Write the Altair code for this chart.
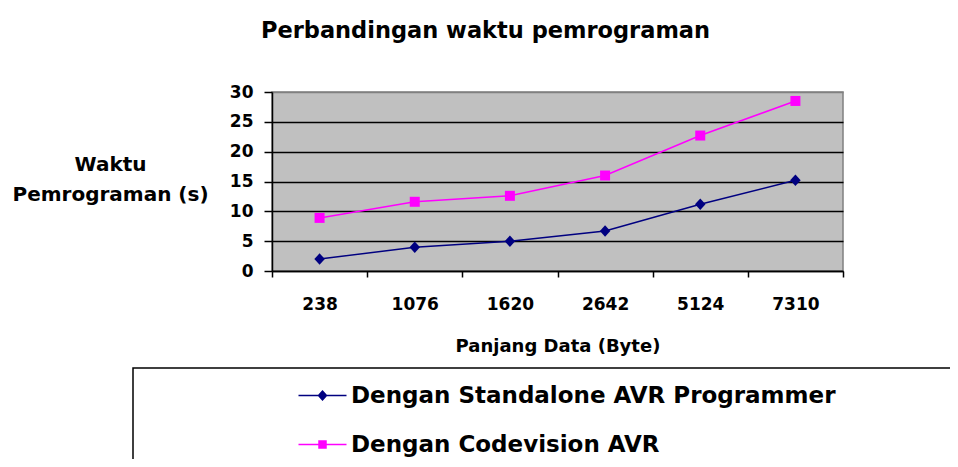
import altair as alt
import pandas as pd

# ---- data ----
categories = ["238", "1076", "1620", "2642", "5124", "7310"]
standalone = [2.0, 4.0, 5.0, 6.7, 11.2, 15.2]
codevision = [8.9, 11.6, 12.6, 16.0, 22.7, 28.5]
series_names = ["Dengan Standalone AVR Programmer", "Dengan Codevision AVR"]
series_colors = ["#000080", "#FF00FF"]
y_ticks = [0, 5, 10, 15, 20, 25, 30]

rows = []
for name, vals in zip(series_names, [standalone, codevision]):
    for c, v in zip(categories, vals):
        rows.append({"size": c, "time": v, "series": name})
df = pd.DataFrame(rows)

FONT = "DejaVu Sans"

point_paths = ["M0,-1.15L1.05,0L0,1.15L-1.05,0Z", "M-1,-1L1,-1L1,1L-1,1Z"]
legend_paths = [
    "M-4.8,-0.15L4.8,-0.15L4.8,0.15L-4.8,0.15Z M0,-1.1L1,0L0,1.1L-1,0Z",
    "M-4.8,-0.15L4.8,-0.15L4.8,0.15L-4.8,0.15Z M-0.85,-0.85L0.85,-0.85L0.85,0.85L-0.85,0.85Z",
]


def color_scale():
    return alt.Scale(domain=series_names, range=series_colors)


x_enc = alt.X(
    "size:N",
    sort=categories,
    bandPosition=0.5,
    scale=alt.Scale(type="band", paddingInner=0, paddingOuter=0),
    axis=alt.Axis(
        title="Panjang Data (Byte)",
        labelAngle=0,
        tickBand="extent",
        tickSize=6,
        tickColor="black",
        tickWidth=1.5,
        domainColor="black",
        domainWidth=1.5,
        grid=False,
        labelPadding=19,
        titlePadding=25,
    ),
)
y_enc = alt.Y(
    "time:Q",
    scale=alt.Scale(domain=[0, 30], nice=False),
    axis=alt.Axis(
        values=y_ticks,
        title=["Waktu", "Pemrograman (s)"],
        titleAngle=0,
        titleAlign="center",
        titleBaseline="top",
        titleX=-162,
        titleY=62,
        titleLineHeight=30,
        titleFontSize=20,
        tickSize=8,
        tickColor="black",
        tickWidth=1.5,
        domainColor="black",
        domainWidth=1.5,
        labelPadding=11,
        grid=True,
        gridColor={"condition": {"test": "datum.value == 30", "value": "#808080"}, "value": "black"},
        gridWidth=1.5,
    ),
)

base = alt.Chart(df)

line = base.mark_line(strokeWidth=1.5).encode(
    x=x_enc, y=y_enc,
    color=alt.Color("series:N", scale=color_scale(), legend=None),
)

points = base.mark_point(filled=True, size=100, opacity=1).encode(
    x=x_enc, y=y_enc,
    color=alt.Color("series:N", scale=color_scale(), legend=None),
    shape=alt.Shape("series:N", scale=alt.Scale(domain=series_names, range=point_paths), legend=None),
)

leg = dict(
    orient="none",
    legendX=39,
    legendY=292,
    title=None,
    padding=0,
    symbolSize=100,
    symbolStrokeWidth=0,
    labelFont=FONT,
    labelFontSize=23,
    labelFontWeight="bold",
    labelColor="black",
    labelOffset=17,
    labelLimit=1000,
    rowPadding=25,
)

legend_layer = base.transform_filter("false").mark_point(filled=True, opacity=1).encode(
    x=x_enc, y=y_enc,
    color=alt.Color("series:N", scale=color_scale(), legend=alt.Legend(**leg)),
    shape=alt.Shape("series:N", scale=alt.Scale(domain=series_names, range=legend_paths),
                    legend=alt.Legend(**leg)),
)

box = alt.Chart(pd.DataFrame({"k": [0]})).mark_rect(
    fillOpacity=0, stroke="black", strokeWidth=1.5
).encode(
    x=alt.value(-139), x2=alt.value(900), y=alt.value(276), y2=alt.value(600)
)

chart = (
    alt.layer(line, points, legend_layer, box)
    .resolve_scale(shape="independent", color="independent")
    .properties(
        width=571,
        height=179,
        autosize=alt.AutoSizeParams(type="none"),
        padding={"left": 264, "top": 84, "right": 107, "bottom": 188},
        title=alt.TitleParams(
            "Perbandingan waktu pemrograman",
            font=FONT, fontSize=22.5, fontWeight="bold", color="black",
            anchor="middle", dx=-72, dy=-37,
        ),
    )
    .configure_view(fill="#C0C0C0", stroke="#808080", strokeWidth=1.5)
    .configure_axis(
        labelFont=FONT, labelFontSize=17, labelFontWeight="bold", labelColor="black",
        titleFont=FONT, titleFontSize=18, titleFontWeight="bold", titleColor="black",
    )
)

chart.save("out.html", embed_options={"renderer": "svg", "actions": False})
